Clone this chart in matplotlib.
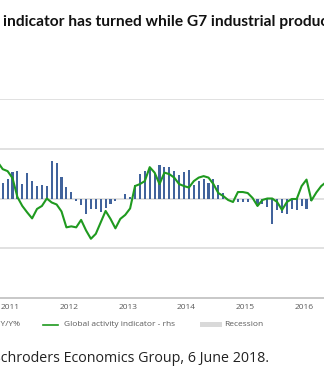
"""G7 industrial production vs global activity indicator, monthly."""
import matplotlib

matplotlib.use("Agg")
import matplotlib.pyplot as plt  # noqa: E402
from matplotlib.lines import Line2D  # noqa: E402
from matplotlib.patches import Rectangle  # noqa: E402

# monthly series, Oct 2010 .. May 2016
start_year, start_month = 2010, 10
g7_ip_yoy = [
    1.8, 1.6, 2.0, 2.7, 2.8, 1.5, 2.6, 1.8, 1.3, 1.4, 1.3, 3.8, 3.6, 2.2,
    1.2, 0.7, -0.3, -0.7, -1.6, -1.1, -1.1, -1.4, -1.0, -0.6, -0.3, -0.1,
    0.5, 0.2, 1.4, 2.5, 2.8, 3.0, 2.6, 3.4, 3.2, 3.2, 2.8, 2.4, 2.7, 2.9,
    1.4, 1.8, 2.0, 1.6, 2.0, 1.4, 0.6, -0.1, -0.1, -0.4, -0.4, -0.4, -0.1,
    -0.8, -0.6, -0.9, -2.6, -1.2, -1.5, -1.6, -1.1, -1.2, -0.8, -1.1, -0.3,
    -0.1, -0.1, 0.0,
]
activity = [
    0.73, 0.59, 0.55, 0.41, 0.03, -0.15, -0.28, -0.40, -0.21, -0.15, 0.0,
    -0.08, -0.12, -0.26, -0.58, -0.56, -0.58, -0.43, -0.64, -0.81, -0.71,
    -0.48, -0.25, -0.41, -0.60, -0.41, -0.33, -0.20, 0.25, 0.29, 0.35, 0.63,
    0.52, 0.29, 0.52, 0.49, 0.42, 0.29, 0.25, 0.22, 0.35, 0.42, 0.45, 0.42,
    0.29, 0.11, 0.05, -0.03, -0.07, 0.13, 0.13, 0.11, 0.01, -0.15, -0.03,
    0.0, 0.0, -0.07, -0.23, -0.07, -0.01, -0.01, 0.25, 0.38, -0.04, 0.12,
    0.25, 0.33,
]
years = [2011, 2012, 2013, 2014, 2015, 2016]

# month centres in decimal years
x = [start_year + (start_month - 1 + i + 0.5) / 12 for i in range(len(activity))]

BLUE = "#41639c"
GREEN = "#1f9a1f"
GREY = "#5a5a5a"

fig = plt.figure(figsize=(3.24, 3.77), dpi=100)
ax = fig.add_axes([0, 1 - 298 / 377, 1, 199 / 377])
ax2 = ax.twinx()

ax.bar(x, g7_ip_yoy, width=0.036, color=BLUE, zorder=2)
ax2.plot(x, activity, color=GREEN, lw=1.5, zorder=3)

ax.set_xlim(2010.829, 2016.339)
ax.set_ylim(-10, 10)
ax2.set_ylim(-2, 2)
ax.set_yticks([-5, 0, 5, 10])
ax.yaxis.grid(True, color="#dcdcdc", lw=1.2, zorder=0)
ax.set_axisbelow(True)
ax.tick_params(axis="y", left=False, labelleft=False)
ax2.tick_params(axis="y", right=False, labelright=False)
ax.set_xticks(years)
ax.set_xticklabels([str(y) for y in years], fontsize=6, color=GREY,
                   fontfamily="Open Sans")
ax.tick_params(axis="x", length=0, pad=4)
for a in (ax, ax2):
    for s in ("top", "right", "left", "bottom"):
        a.spines[s].set_visible(False)
ax.axhline(-10, color="#c4c4c4", lw=1.3, clip_on=False, zorder=1)

W, H = 324, 377


def fx(px):
    return px / W


def fy(py):
    return 1 - py / H


fig.text(fx(3), fy(22), "indicator has turned while G7 industrial production",
         fontsize=11.2, fontweight="bold", fontfamily="Lato",
         ha="left", va="center", color="#111111")

# legend row
ly = fy(324.5)
fig.text(fx(20), ly, "G7 industrial production Y/Y%", fontsize=6, color=GREY,
         fontfamily="Open Sans", ha="right", va="center")
fig.add_artist(Line2D([fx(42.5), fx(57.5)], [ly, ly], color=GREEN, lw=1.2))
fig.text(fx(64), ly, "Global activity indicator - rhs", fontsize=6,
         color=GREY, fontfamily="Open Sans", ha="left", va="center")
fig.add_artist(Rectangle((fx(200), fy(327)), fx(22), 5 / H,
                         color="#d9d9d9", lw=0))
fig.text(fx(224), ly, "Recession", fontsize=6, color=GREY,
         fontfamily="Open Sans", ha="left", va="center")

fig.text(fx(269), fy(358), "Source: Schroders Economics Group, 6 June 2018.",
         fontsize=10.3, color="#222222", fontfamily="Open Sans",
         ha="right", va="center")

fig.savefig("out.png", dpi=100)
